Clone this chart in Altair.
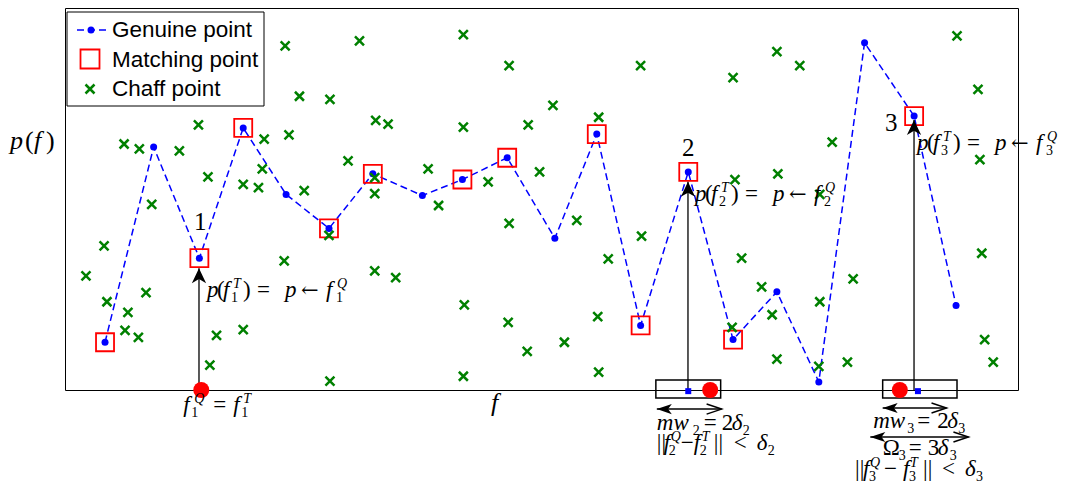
import altair as alt
import pandas as pd

# ---------------- data ----------------
# Genuine points (joined by the dashed blue line)
genuine_f = [4.2, 9.3, 14.1, 18.7, 23.2, 27.7, 32.3, 37.5, 41.7, 46.4,
             51.4, 55.8, 60.4, 65.4, 70.1, 74.7, 79.1, 83.9, 89.1, 93.5]
genuine_p = [12.5, 63.6, 34.5, 68.6, 51.2, 42.3, 56.6, 50.9, 55.1, 60.8,
             39.7, 67.0, 16.9, 57.1, 13.2, 25.7, 2.1, 90.9, 71.7, 22.1]
genuine_matched = [1, 0, 1, 1, 0, 1, 1, 0, 1, 1,
                   0, 1, 1, 1, 1, 0, 0, 0, 1, 0]

# Chaff points
chaff_f = [2.2, 4.1, 4.4, 6.2, 6.3, 6.6, 7.7, 7.8, 8.5, 9.1,
           12.0, 14.0, 15.0, 15.2, 15.9, 18.7, 18.7, 20.3, 20.7, 20.9,
           23.0, 23.1, 23.5, 24.6, 25.1, 27.7, 27.8, 27.8, 29.7, 30.9,
           32.5, 32.5, 32.5, 32.6, 33.9, 34.7, 38.1, 39.2, 41.8, 41.8,
           41.9, 41.8, 44.4, 46.5, 46.6, 46.6, 48.5, 48.6, 49.8, 51.2,
           52.4, 53.7, 55.9, 56.0, 56.0, 57.0, 60.4, 60.5, 70.0, 70.1,
           70.3, 71.0, 73.1, 74.2, 74.7, 74.7, 74.8, 77.1, 79.1, 79.2,
           79.2, 80.5, 82.1, 82.7, 93.6, 95.8, 96.0, 96.2, 96.5, 97.4]
chaff_p = [29.9, 37.7, 23.1, 64.4, 15.6, 20.3, 13.8, 63.1, 25.5, 48.6,
           62.6, 69.4, 55.8, 6.5, 14.3, 53.8, 15.8, 53.0, 57.9, 65.7,
           33.8, 90.1, 66.8, 76.9, 52.2, 40.5, 76.1, 2.3, 60.0, 91.4,
           55.6, 51.4, 31.2, 70.6, 69.6, 29.4, 57.9, 48.3, 93.0, 68.8,
           22.3, 3.6, 54.5, 17.7, 84.9, 43.6, 10.1, 69.4, 57.1, 74.5,
           12.5, 44.4, 19.2, 71.4, 4.7, 34.3, 84.9, 40.3, 16.4, 81.8,
           55.1, 34.5, 27.0, 19.7, 88.6, 8.1, 56.6, 84.9, 6.2, 51.2,
           23.1, 64.9, 7.3, 29.1, 92.7, 78.7, 60.3, 35.8, 13.2, 7.3]

# Query points on the f axis (red) and template positions (blue squares)
query_f = [14.3, 67.7, 87.6]
template_f = [65.4, 89.5]
# Matching windows on the axis
window_lo = [62.0, 85.8]
window_hi = [68.8, 93.6]
window_p_top = 2.6
window_p_bot = -2.1
# Vertical arrows (from axis up to matched genuine point)
arrow_f = [14.06, 65.37, 89.09]
arrow_tip = [31.9, 54.5, 70.7]
# Horizontal double arrows (mw2, mw3, Omega3)
harrow_lo = [62.1, 85.8, 84.5]
harrow_hi = [68.9, 92.5, 94.8]
harrow_p = [-5.0, -4.7, -12.3]

# Numbered labels
num_text = ["1", "2", "3"]
num_f = [14.2, 65.4, 86.7]
num_p = [44.0, 63.4, 69.9]

W, H = 953, 382
PX_F = W / 100.0
PX_P = H / 100.0

# ---------------- helpers ----------------
def X(field="f"):
    return alt.X(f"{field}:Q", scale=alt.Scale(domain=[0, 100], nice=False, zero=False), axis=None)

def Y(field="p"):
    return alt.Y(f"{field}:Q", scale=alt.Scale(domain=[0, 100], nice=False, zero=False), axis=None)

BLUE, RED, GREEN = "#0000ff", "#ff0000", "#008000"
SERIF = "Liberation Serif"
SANS = "Liberation Sans"

X_SHAPE = "M-1,-1L1,1M-1,1L1,-1"
UP_HEAD = "M0,0L0.95,2L0,1.45L-0.95,2Z"
LEFT_HEAD = "M0,0L2,-0.67L1.5,0L2,0.67Z"
RIGHT_OPEN = "M-2,-0.67L0,0L-2,0.67"

gdf = pd.DataFrame({"f": genuine_f, "p": genuine_p, "m": genuine_matched})
cdf = pd.DataFrame({"f": chaff_f, "p": chaff_p})

layers = []
layers.append(alt.Chart(gdf).mark_line(color=BLUE, strokeWidth=1.5, strokeDash=[7, 4]).encode(
    x=X(), y=Y(), order="f:Q"))
layers.append(alt.Chart(gdf).mark_point(shape="circle", filled=True, size=49, color=BLUE, opacity=1).encode(
    x=X(), y=Y()))
layers.append(alt.Chart(gdf).transform_filter("datum.m == 1").mark_point(
    shape="square", filled=False, size=324, color=RED, strokeWidth=1.8, opacity=1).encode(x=X(), y=Y()))
layers.append(alt.Chart(cdf).mark_point(shape=X_SHAPE, filled=False, size=81, color=GREEN,
                                        strokeWidth=2.5, opacity=1).encode(x=X(), y=Y()))

# windows
wdf = pd.DataFrame({"f": window_lo, "f2": window_hi,
                    "p": [window_p_top] * 2, "p2": [window_p_bot] * 2})
layers.append(alt.Chart(wdf).mark_rect(fill="transparent", stroke="black", strokeWidth=1.5).encode(
    x=X(), x2=alt.X2("f2:Q"), y=Y(), y2=alt.Y2("p2:Q")))

# vertical arrows
adf = pd.DataFrame({"f": arrow_f, "p0": [0.0] * 3, "p1": arrow_tip})
layers.append(alt.Chart(adf).mark_rule(color="black", strokeWidth=1.3).encode(
    x=X(), y=Y("p0"), y2=alt.Y2("p1:Q")))
layers.append(alt.Chart(adf).mark_point(shape=UP_HEAD, filled=True, size=225, color="black", opacity=1).encode(
    x=X(), y=Y("p1")))

# horizontal double arrows
hdf = pd.DataFrame({"f1": harrow_lo, "f2": harrow_hi, "p": harrow_p})
layers.append(alt.Chart(hdf).mark_rule(color="black", strokeWidth=1.5).encode(
    x=X("f1"), x2=alt.X2("f2:Q"), y=Y()))
layers.append(alt.Chart(hdf).mark_point(shape=LEFT_HEAD, filled=True, size=225, color="black", opacity=1).encode(
    x=X("f1"), y=Y()))
layers.append(alt.Chart(hdf).mark_point(shape=RIGHT_OPEN, filled=False, size=225, color="black",
                                        strokeWidth=1.5, opacity=1).encode(x=X("f2"), y=Y()))

# query (red) and template (blue) markers on axis
qdf = pd.DataFrame({"f": query_f, "p": [0.0] * len(query_f)})
layers.append(alt.Chart(qdf).mark_circle(size=256, color=RED, opacity=1).encode(x=X(), y=Y()))
tdf = pd.DataFrame({"f": template_f, "p": [-0.3] * len(template_f)})
layers.append(alt.Chart(tdf).mark_square(size=36, color=BLUE, opacity=1).encode(x=X(), y=Y()))

# ---------------- math labels (token layout) ----------------
NORM = "\u2016"
def formula_p(i):
    return [("p", 0, "mi"), ("(", 10, "m"), ("f", 16, "mi"), (i, 24, "b"), ("T", 26, "pi"),
            (")", 36, "m"), ("=", 50, "m"), ("p", 78, "mi"), ("\u2190", 94, "a"),
            ("f", 119, "mi"), (i, 129, "b"), ("Q", 130, "pi")]

labels = [
    (14.9, 24.3, formula_p("1")),
    (66.1, 49.5, formula_p("2")),
    (89.4, 62.8, formula_p("3")),
    (12.4, -5.8, [("f", 0, "mi"), ("1", 8, "b"), ("Q", 11, "pi"), ("=", 30, "m"),
                  ("f", 50, "mi"), ("1", 58, "b"), ("T", 60, "pi")]),
    (62.1, -10.5, [("mw", 0, "mi"), ("2", 36, "b"), ("=", 47, "m"), ("2", 65, "m"),
                   ("\u03b4", 75, "mi"), ("2", 86, "b")]),
    (62.1, -15.7, [("||", 0, "m"), ("f", 7, "mi"), ("2", 12, "b"), ("Q", 14, "pi"),
                   ("\u2212", 24, "m"), ("f", 37, "mi"), ("2", 43, "b"), ("T", 45, "pi"),
                   ("||", 57, "m"), ("<", 77, "m"), ("\u03b4", 100, "mi"), ("2", 111, "b")]),
    (84.8, -9.9, [("mw", 0, "mi"), ("3", 34, "b"), ("=", 44, "m"), ("2", 64, "m"),
                  ("\u03b4", 74, "mi"), ("3", 85, "b")]),
    (85.8, -17.0, [("\u03a9", 0, "m"), ("3", 16, "b"), ("=", 26, "m"), ("3", 45, "m"),
                   ("\u03b4", 55, "mi"), ("3", 67, "b")]),
    (82.9, -22.6, [("||", 0, "m"), ("f", 8, "mi"), ("3", 14, "b"), ("Q", 15, "pi"),
                   ("\u2212", 29, "m"), ("f", 48, "mi"), ("3", 54, "b"), ("T", 55, "pi"),
                   ("||", 68, "m"), ("<", 87, "m"), ("\u03b4", 110, "mi"), ("3", 121, "b")]),
    (-5.77, 63.0, [("p", 0, "Bi"), ("(", 15, "B"), ("f", 24, "Bi"), (")", 36, "B")]),
    (44.7, -5.5, [("f", 0, "Bi")]),
]

rows = []
for af, ap, toks in labels:
    for t, off, s in toks:
        rows.append({"f": af + off / PX_F, "p": ap, "t": t, "s": s})
tok = pd.DataFrame(rows)

styles = {
    "m": dict(font=SERIF, fontSize=23, fontStyle="normal", dy=0),
    "mi": dict(font=SERIF, fontSize=23, fontStyle="italic", dy=0),
    "a": dict(font="DejaVu Serif", fontSize=21, fontStyle="normal", dy=0),
    "b": dict(font=SERIF, fontSize=14, fontStyle="normal", dy=5),
    "pi": dict(font=SERIF, fontSize=14, fontStyle="italic", dy=-9),
    "B": dict(font=SERIF, fontSize=26, fontStyle="normal", dy=0),
    "Bi": dict(font=SERIF, fontSize=26, fontStyle="italic", dy=0),
}
for s, st in styles.items():
    sub = tok[tok["s"] == s]
    layers.append(alt.Chart(sub).mark_text(align="left", baseline="alphabetic",
                                           color="black", **st).encode(x=X(), y=Y(), text="t:N"))

ndf = pd.DataFrame({"f": num_f, "p": num_p, "t": num_text})
layers.append(alt.Chart(ndf).mark_text(align="center", baseline="middle", font=SERIF, fontSize=25,
                                       color="black").encode(x=X(), y=Y(), text="t:N"))

# ---------------- legend (drawn in pixel space) ----------------
one = alt.Data(values=[{"a": 1}])
layers.append(alt.Chart(one).mark_rect(fill="white", stroke="black", strokeWidth=1).encode(
    x=alt.value(2), x2=alt.value(199), y=alt.value(4), y2=alt.value(98)))
layers.append(alt.Chart(one).mark_rule(color=BLUE, strokeWidth=1.5, strokeDash=[7, 4]).encode(
    x=alt.value(12), x2=alt.value(44), y=alt.value(22)))
layers.append(alt.Chart(one).mark_point(shape="circle", filled=True, size=49, color=BLUE, opacity=1).encode(
    x=alt.value(26), y=alt.value(22)))
layers.append(alt.Chart(one).mark_point(shape="square", filled=False, size=361, color=RED,
                                        strokeWidth=1.8, opacity=1).encode(x=alt.value(25), y=alt.value(51)))
layers.append(alt.Chart(one).mark_point(shape=X_SHAPE, filled=False, size=81, color=GREEN,
                                        strokeWidth=2.5, opacity=1).encode(x=alt.value(25), y=alt.value(81)))
legend_labels = ["Genuine point", "Matching point", "Chaff point"]
legend_y = [22, 52, 81]
for lab, ly in zip(legend_labels, legend_y):
    layers.append(alt.Chart(one).mark_text(text=lab, align="left", baseline="middle", font=SANS,
                                           fontSize=22.5, color="black").encode(
        x=alt.value(47), y=alt.value(ly)))

chart = alt.layer(*layers).properties(
    width=W, height=H,
    padding={"left": 57, "top": 0, "right": 44, "bottom": 96},
    autosize=alt.AutoSizeParams(type="none"),
    background="white",
).configure_view(stroke="black", strokeWidth=1)

chart.save("out.html", embed_options={"renderer": "svg", "actions": False})
